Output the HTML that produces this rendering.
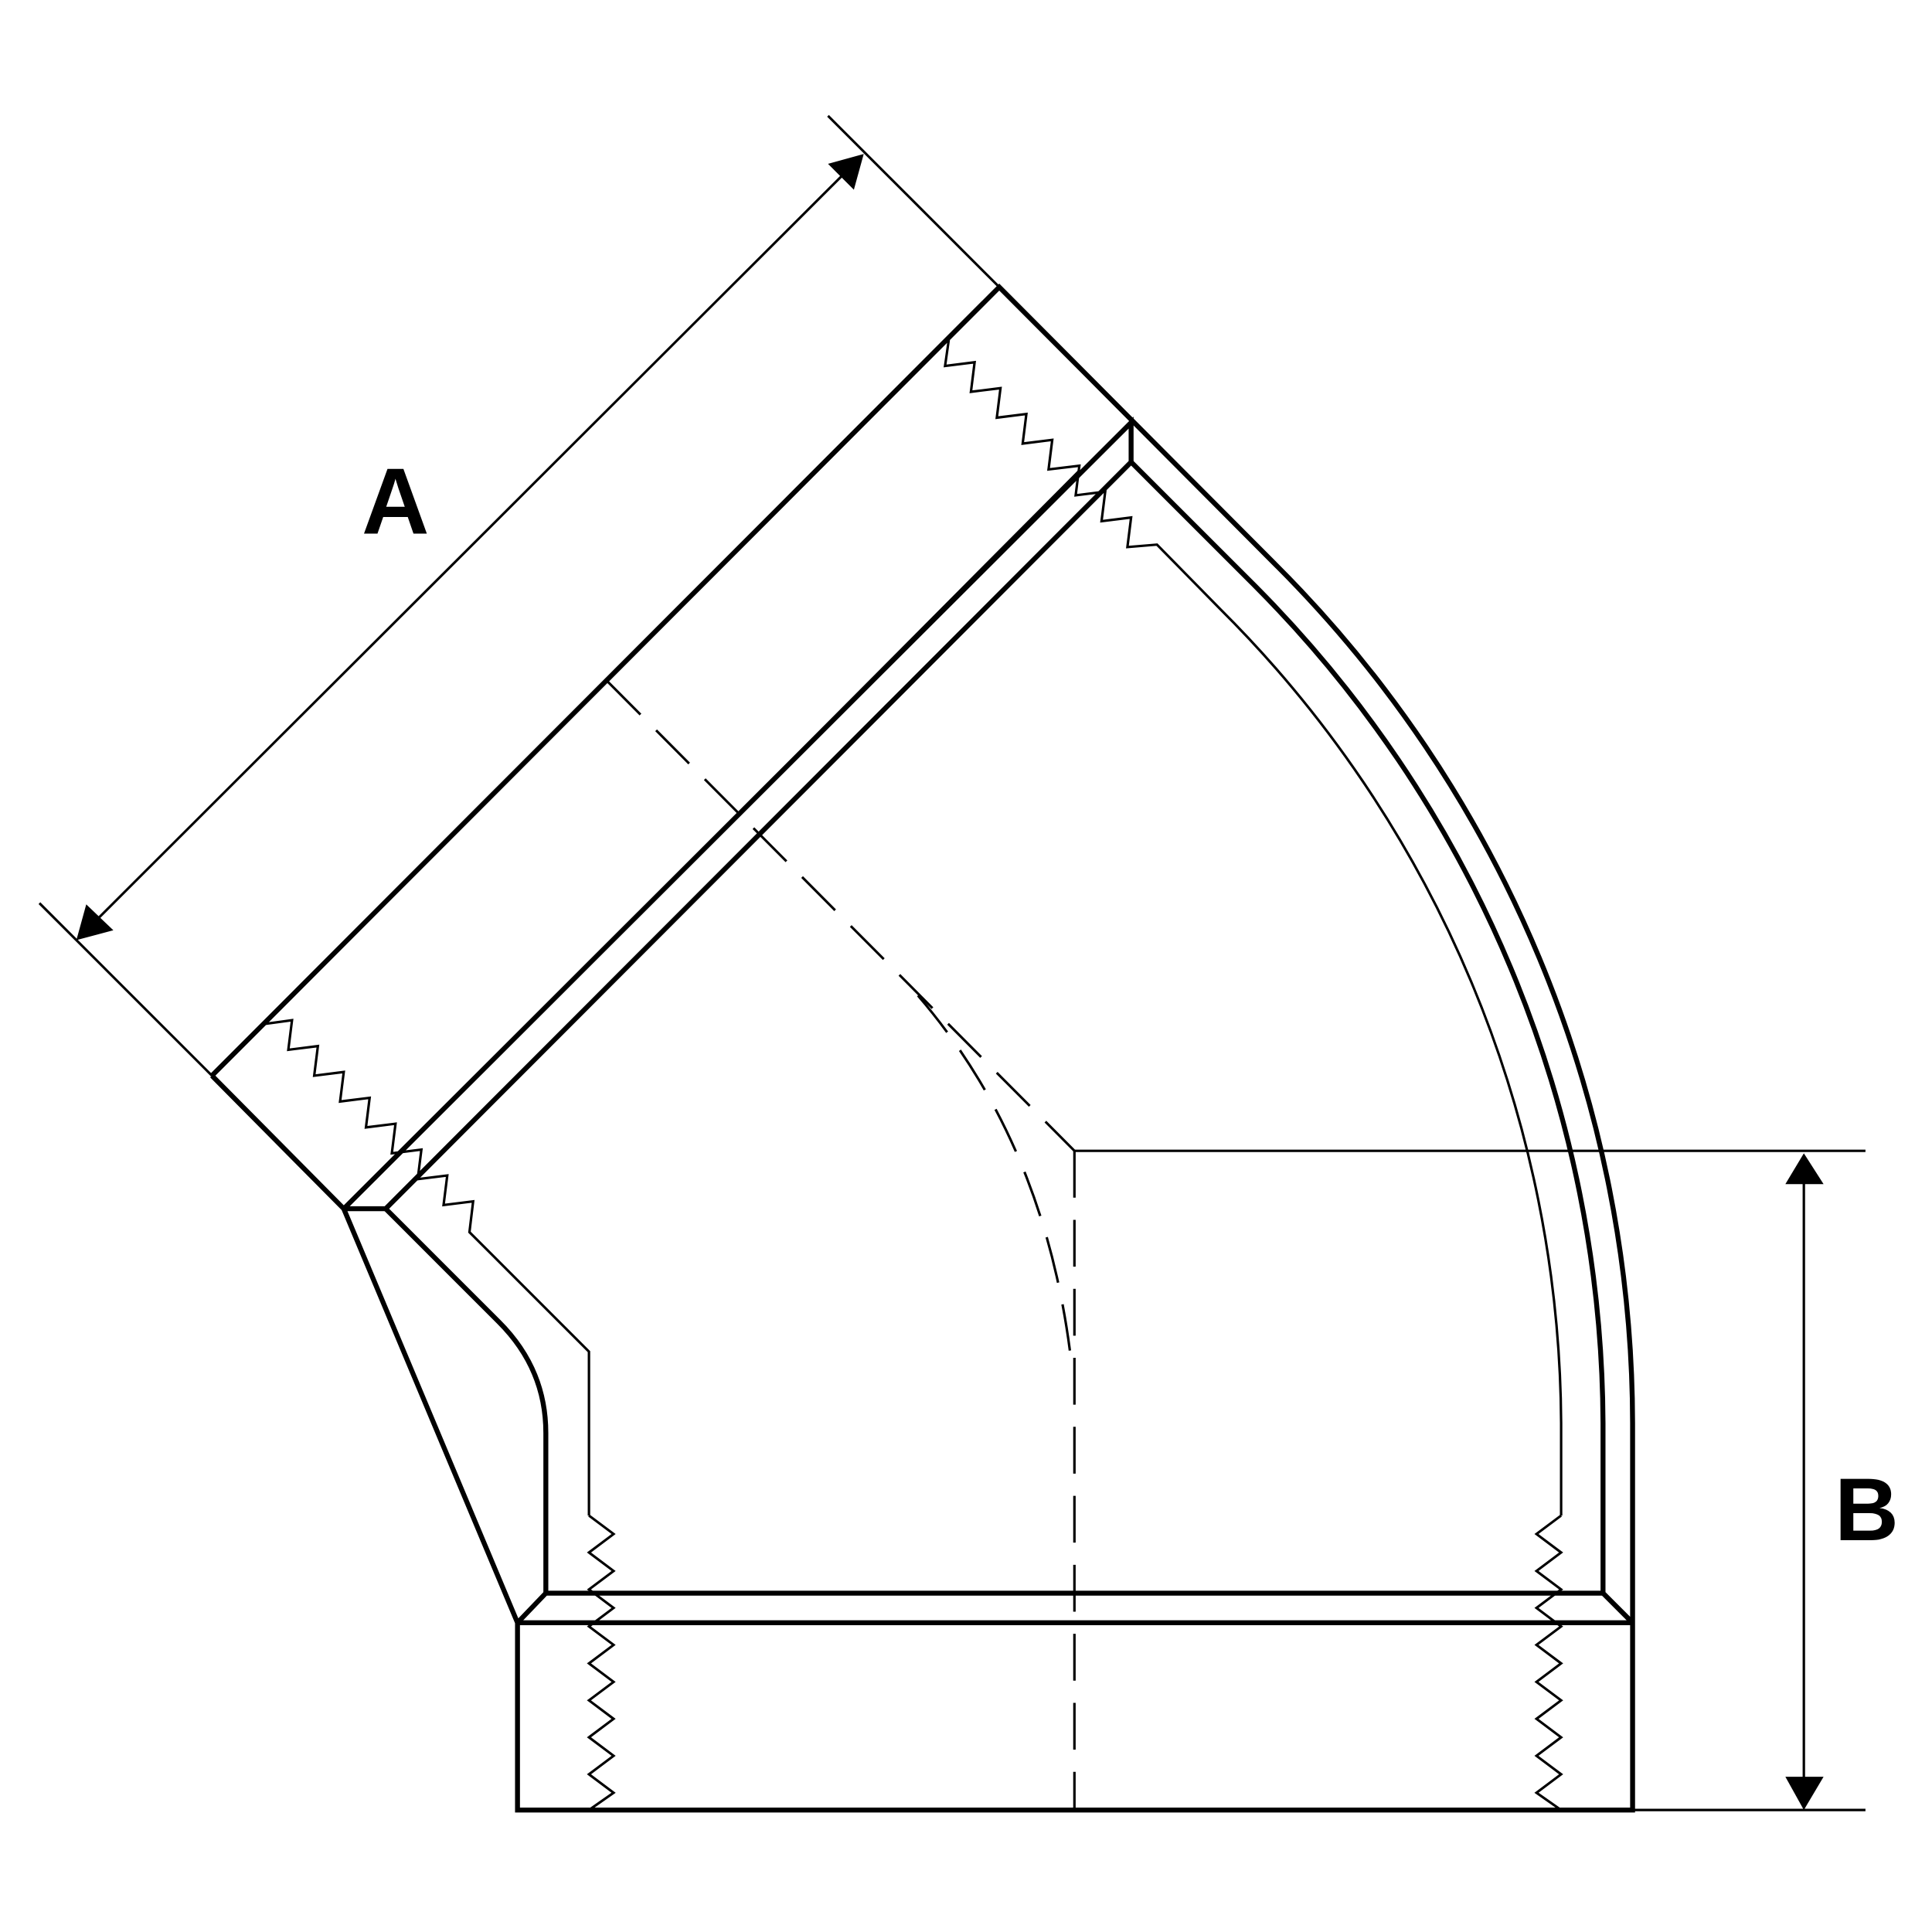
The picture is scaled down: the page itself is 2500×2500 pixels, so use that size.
<!DOCTYPE html>
<html><head><style>html,body{margin:0;padding:0;background:#fff}svg{display:block}</style></head>
<body>
<svg width="2500" height="2500" viewBox="0 0 1568 1568" xmlns="http://www.w3.org/2000/svg">
<g fill="none" stroke="#000" stroke-linejoin="miter" stroke-linecap="butt">
<!-- thin extension / dimension lines -->
<g stroke-width="2">
<line x1="672" y1="94" x2="811" y2="233"/>
<line x1="32" y1="733" x2="172" y2="873"/>
<line x1="80" y1="745" x2="686" y2="140"/>
<line x1="872" y1="934" x2="1514" y2="934"/>
<line x1="1325" y1="1469" x2="1514" y2="1469"/>
<line x1="1464" y1="955" x2="1464" y2="1450"/>
<line x1="322" y1="939" x2="876" y2="382"/>
<path d="M770,276 L767,297 L791,294 L788,318 L812,315 L809,339 L833,336 L830,360 L854,357 L851,381 L876,378 L873,402 L897,399 L894,423 L918,420 L915,444 L939,442 L990,494 A938,938 0 0 1 1267,1155 L1267,1230"/>
<path d="M215,831 L237,828 L234,852 L258,849 L255,873 L279,870 L276,894 L300,891 L297,915 L321,912 L318,936 L342,933 L339,957 L363,954 L360,978 L384,975 L381,1000 L478,1097 L478,1230"/>
<path d="M478,1230 L498,1245 L478,1260 L498,1275 L478,1290 L498,1305 L478,1320 L498,1335 L478,1350 L498,1365 L478,1380 L498,1395 L478,1410 L498,1425 L478,1440 L498,1455 L478,1469"/>
<path d="M1267,1230 L1247,1245 L1267,1260 L1247,1275 L1267,1290 L1247,1305 L1267,1320 L1247,1335 L1267,1350 L1247,1365 L1267,1380 L1247,1395 L1267,1410 L1247,1425 L1267,1440 L1247,1455 L1267,1469"/>
<g stroke-dasharray="38,18">
<line x1="493" y1="553" x2="872" y2="934"/>
<line x1="872" y1="934" x2="872" y2="1469"/>
<path d="M745,808 Q850,930 870,1110"/>
</g>
</g>
<!-- thick outlines -->
<g stroke-width="4">
<path d="M172,873 L811,233 L1035,458 A986,986 0 0 1 1325,1155 L1325,1469 L420,1469 L420,1317 L1325,1317"/>
<path d="M172,873 L279,981 L313,981 L918,375 L918,343 L279,981"/>
<path d="M918,375 L1015,472 A968,968 0 0 1 1301,1155 L1301,1293 L1325,1317"/>
<path d="M279,981 L420,1317 L443,1293 L1301,1293"/>
<path d="M313,981 L405,1073 Q443,1111 443,1163 L443,1293"/>
</g>
</g>
<g fill="#000" stroke="none">
<polygon points="701,125 672,133 693,154"/>
<polygon points="62,763 70,734 92,755"/>
<polygon points="1464,936 1449,961 1480,961"/>
<polygon points="1464,1469 1449,1442 1480,1442"/>
</g>
<text x="321" y="433" font-family="Liberation Sans, sans-serif" font-weight="bold" font-size="76" text-anchor="middle">A</text>
<text x="1515" y="1250" font-family="Liberation Sans, sans-serif" font-weight="bold" font-size="72" text-anchor="middle">B</text>
</svg>
</body></html>
